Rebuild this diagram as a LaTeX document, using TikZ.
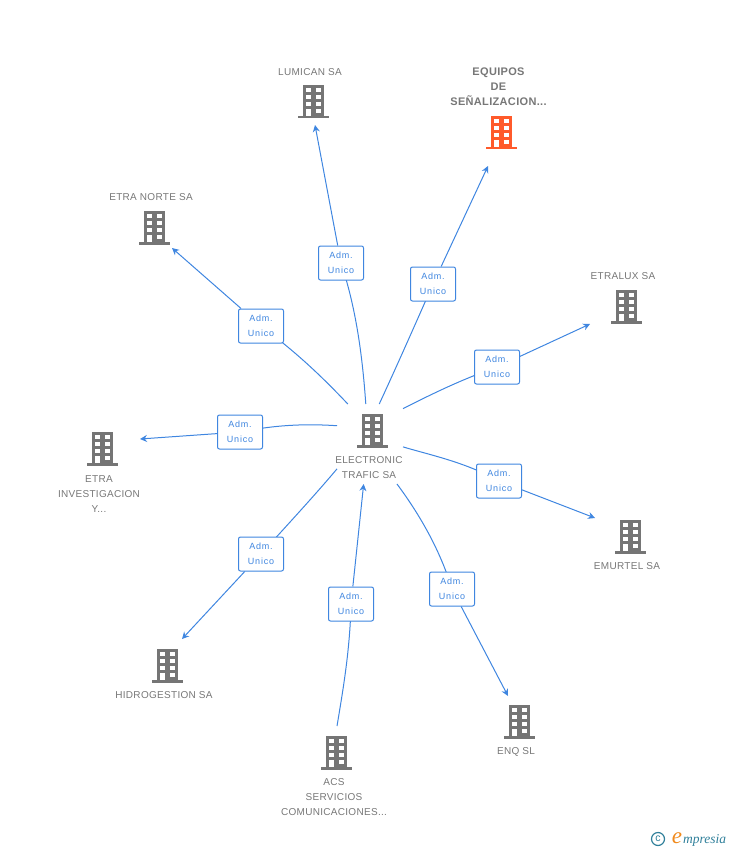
\documentclass[tikz,border=0pt]{standalone}
\usepackage{fontspec}
\setmainfont{Liberation Sans}
\newfontfamily\lblfont[LetterSpace=3]{Liberation Sans}
\newfontfamily\admfont[LetterSpace=9]{Liberation Sans}
\newfontfamily\logofont{Liberation Serif}
\usetikzlibrary{positioning, arrows.meta, backgrounds}
\definecolor{linkblue}{HTML}{3F86E0}
\definecolor{iconfill}{HTML}{757575}
\definecolor{iconred}{HTML}{FF5A2B}
\definecolor{lblgray}{HTML}{777777}
\definecolor{logoteal}{HTML}{2F7F9A}
\definecolor{logoorange}{HTML}{F08A1D}
\tikzset{
  link/.style={draw=linkblue, line width=1pt},
  linkarrow/.style={link, -{Stealth[length=7pt, width=7pt]}},
  admbox/.style={draw=linkblue, line width=1pt, fill=white, rounded corners=2pt, minimum width=45pt, minimum height=34pt, inner sep=0pt, align=center, text=linkblue, font=\admfont\fontsize{9}{15}\selectfont},
  bldg/.style={minimum size=32pt, inner sep=0pt},
  lbl/.style={inner sep=0pt, align=center, text=lblgray, font=\lblfont\fontsize{10}{15}\selectfont},
  pics/building/.style={code={
    \fill[#1] (-10.5,-17) rectangle (10.5,14);
    \fill[#1] (-15.5,14) rectangle (15.5,16.5);
    \foreach \wy in {-14,-7,0} {
      \fill[white] (-7,\wy) rectangle ++(5,4);
      \fill[white] (2.5,\wy) rectangle ++(5,4);
    }
    \fill[white] (2.5,7) rectangle ++(5,4);
    \fill[white] (-7,7) rectangle ++(5,7);
  }}
}
\begin{document}
\begin{tikzpicture}[x=1pt, y=-1pt]
  \useasboundingbox (0,0) rectangle (728,850);
  % Hub
  \node[minimum width=66pt, minimum height=80pt, inner sep=0pt, outer sep=0pt] (hub) at (370,444) {};
  \node[bldg] (electronic) at (372,431) {};
  \pic at (electronic) {building=iconfill};
  \node[lbl, below=9pt of electronic, xshift=-3pt] (electroniclbl) {ELECTRONIC\\TRAFIC SA};
  % Companies
  \foreach \name/\px/\py in {lumican/313/102, etranorte/154/228, etralux/626/307, emurtel/630/537, etrainv/102/449, hidro/167/666, acs/336/753, enq/519/722} {
    \node[bldg] (\name) at (\px,\py) {};
    \pic at (\name) {building=iconfill};
  }
  \node[bldg] (equipos) at (501,133) {};
  \pic at (equipos) {building=iconred};
  % Labels
  \node[lbl, above=10pt of lumican, xshift=-3pt] (lumicanlbl) {LUMICAN SA};
  \node[lbl, above=11pt of etranorte, xshift=-3pt] (etranortelbl) {ETRA NORTE SA};
  \node[lbl, above=11pt of etralux, xshift=-3pt] (etraluxlbl) {ETRALUX SA};
  \node[lbl, below=9pt of emurtel, xshift=-3pt] (emurtellbl) {EMURTEL SA};
  \node[lbl, below=10pt of etrainv, xshift=-3pt] (etrainvlbl) {ETRA\\INVESTIGACION\\Y...};
  \node[lbl, below=9pt of hidro, xshift=-3pt] (hidrolbl) {HIDROGESTION SA};
  \node[lbl, below=9pt of enq, xshift=-3pt] (enqlbl) {ENQ SL};
  \node[lbl, below=9pt of acs, xshift=-2pt] (acslbl) {ACS\\SERVICIOS\\COMUNICACIONES...};
  \node[lbl, above=11pt of equipos, xshift=-2.5pt, font=\lblfont\bfseries\fontsize{11}{15}\selectfont] (equiposlbl) {EQUIPOS\\DE\\SEÑALIZACION...};
  % Adm. boxes
  \foreach \name/\px/\py in {admlumican/341/263, admequipos/433/284, admetralux/497/367, admemurtel/499/481, admenq/452/589, admacs/351/604, admhidro/261/554, adminv/240/432, admnorte/261/326} {
    \node[admbox] (\name) at (\px,\py) {Adm.\\Unico};
  }
  % Arrow ends
  \coordinate (lumicantip) at (315,125);
  \coordinate (equipostip) at (488,166);
  \coordinate (etraluxtip) at (590,324);
  \coordinate (emurteltip) at (595,518);
  \coordinate (enqtip) at (508,696);
  \coordinate (hubtip) at (hub.-99);
  \coordinate (hidrotip) at (182,639);
  \coordinate (etrainvtip) at (140,439);
  \coordinate (etranortetip) at (172,248);
  \coordinate (acsstart) at (337,726);
  % Connectors
  \begin{scope}[on background layer]
    \draw[link] (hub.96) .. controls (362,350) and (355,305) .. (admlumican.center);
    \draw[link] (hub.77) .. controls (395,370) and (415,325) .. (admequipos.center);
    \draw[link] (hub.47) .. controls (430,395) and (460,380) .. (admetralux.center);
    \draw[link] (hub.-5) .. controls (430,455) and (465,462) .. (admemurtel.center);
    \draw[link] (hub.-56) .. controls (420,515) and (440,550) .. (admenq.center);
    \draw[link] (acsstart) .. controls (343,690) and (350,650) .. (admacs.center);
    \draw[link] (hub.-143) .. controls (315,495) and (290,522) .. (admhidro.center);
    \draw[link] (hub.151) .. controls (310,424) and (280,424) .. (adminv.center);
    \draw[link] (hub.119) .. controls (325,380) and (300,355) .. (admnorte.center);
  \end{scope}
  \draw[linkarrow] (admlumican) -- (lumicantip);
  \draw[linkarrow] (admequipos) -- (equipostip);
  \draw[linkarrow] (admetralux) -- (etraluxtip);
  \draw[linkarrow] (admemurtel) -- (emurteltip);
  \draw[linkarrow] (admenq) -- (enqtip);
  \draw[linkarrow] (admacs) -- (hubtip);
  \draw[linkarrow] (admhidro) -- (hidrotip);
  \draw[linkarrow] (adminv) -- (etrainvtip);
  \draw[linkarrow] (admnorte) -- (etranortetip);
  % Logo
  \node[circle, draw=logoteal, line width=1.2pt, minimum size=13pt, inner sep=0pt, text=logoteal, font=\fontsize{10.5}{10.5}\selectfont] (logoc) at (658,839) {c};
  \node[inner sep=0pt, text=logoorange, font=\logofont\itshape\fontsize{23}{23}\selectfont] (logoe) at (677,838) {e};
  \node[inner sep=0pt, anchor=west, text=logoteal, font=\logofont\itshape\fontsize{13.5}{13.5}\selectfont] (logotxt) at (683,840) {mpresia};
\end{tikzpicture}
\end{document}
